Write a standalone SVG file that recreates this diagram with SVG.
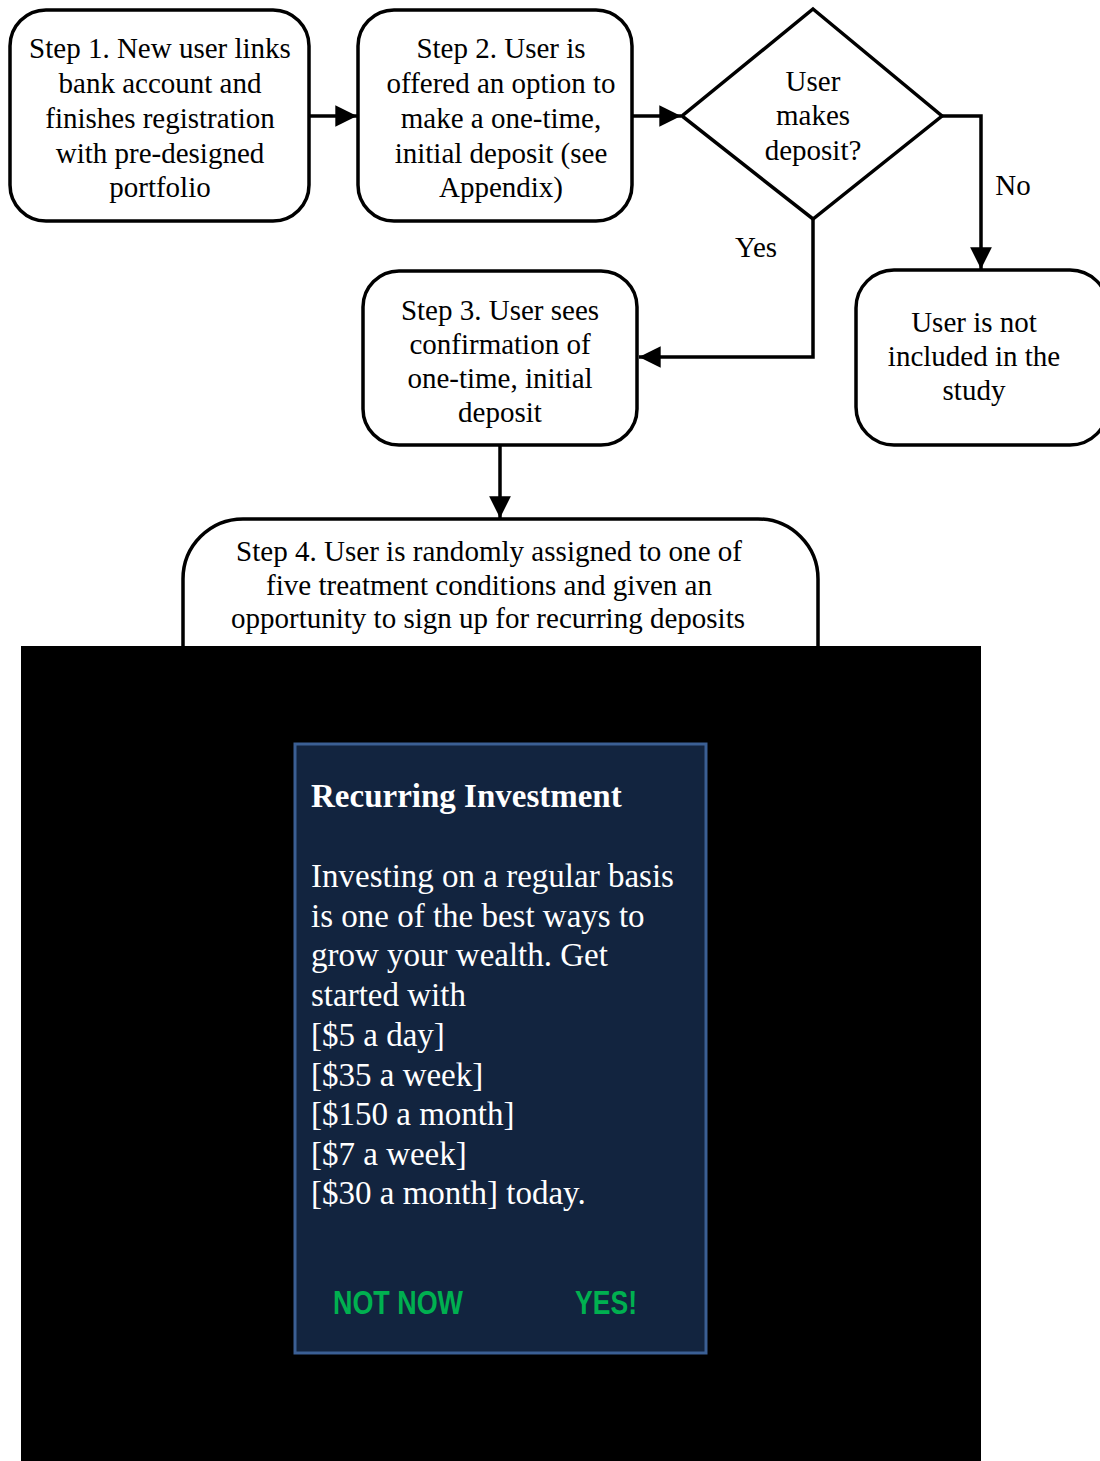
<svg xmlns="http://www.w3.org/2000/svg" width="1100" height="1461" viewBox="0 0 1100 1461">
<style>
.box{fill:#fff;stroke:#000;stroke-width:3.5}
.lbl{font-family:"Liberation Serif","Times New Roman",serif;font-size:29px;fill:#000;text-anchor:middle}
.ln{fill:none;stroke:#000;stroke-width:3.5}
.card{font-family:"Liberation Serif","Times New Roman",serif;font-size:33px;fill:#fff}
.btn{font-family:"Liberation Sans",Arial,sans-serif;font-size:33px;font-weight:bold;fill:#00b050}
</style>
<defs>
<marker id="ah" viewBox="0 0 10 10" refX="10" refY="5" markerWidth="6.2" markerHeight="6.2" markerUnits="strokeWidth" orient="auto">
<path d="M0,0 L10,5 L0,10 z" fill="#000"/>
</marker>
</defs>
<rect width="1100" height="1461" fill="#fff"/>
<g id="connectors">
<line class="ln" x1="309" y1="116" x2="357" y2="116" marker-end="url(#ah)"/>
<line class="ln" x1="632" y1="116" x2="681" y2="116" marker-end="url(#ah)"/>
<polyline class="ln" points="942,116 981,116 981,269" marker-end="url(#ah)"/>
<polyline class="ln" points="813,219 813,357 639,357" marker-end="url(#ah)"/>
<line class="ln" x1="500" y1="445" x2="500" y2="518" marker-end="url(#ah)"/>
<text class="lbl" x="1013" y="195">No</text>
<text class="lbl" x="756" y="257">Yes</text>
</g>
<g id="step1">
<rect class="box" x="10" y="10" width="299" height="211" rx="36"/>
<text class="lbl" x="160" y="58">Step 1. New user links</text>
<text class="lbl" x="160" y="93">bank account and</text>
<text class="lbl" x="160" y="128">finishes registration</text>
<text class="lbl" x="160" y="163">with pre-designed</text>
<text class="lbl" x="160" y="197">portfolio</text>
</g>
<g id="step2">
<rect class="box" x="358" y="10" width="274" height="211" rx="36"/>
<text class="lbl" x="501" y="58">Step 2. User is</text>
<text class="lbl" x="501" y="93">offered an option to</text>
<text class="lbl" x="501" y="128">make a one-time,</text>
<text class="lbl" x="501" y="163">initial deposit (see</text>
<text class="lbl" x="501" y="197">Appendix)</text>
</g>
<g id="decision">
<polygon class="box" points="813,9 942,116 813,219 682,116"/>
<text class="lbl" x="813" y="91">User</text>
<text class="lbl" x="813" y="125">makes</text>
<text class="lbl" x="813" y="160">deposit?</text>
</g>
<g id="step3">
<rect class="box" x="363" y="271" width="274" height="174" rx="36"/>
<text class="lbl" x="500" y="320">Step 3. User sees</text>
<text class="lbl" x="500" y="354">confirmation of</text>
<text class="lbl" x="500" y="388">one-time, initial</text>
<text class="lbl" x="500" y="422">deposit</text>
</g>
<g id="excluded">
<rect class="box" x="856" y="270" width="252" height="175" rx="38"/>
<text class="lbl" x="974" y="332">User is not</text>
<text class="lbl" x="974" y="366">included in the</text>
<text class="lbl" x="974" y="400">study</text>
</g>
<g id="step4">
<rect class="box" x="183" y="519" width="635" height="200" rx="60"/>
<text class="lbl" x="489" y="561" textLength="506" lengthAdjust="spacingAndGlyphs">Step 4. User is randomly assigned to one of</text>
<text class="lbl" x="489" y="595" textLength="446" lengthAdjust="spacingAndGlyphs">five treatment conditions and given an</text>
<text class="lbl" x="488" y="628" textLength="514" lengthAdjust="spacingAndGlyphs">opportunity to sign up for recurring deposits</text>
</g>
<g id="screen">
<rect x="21" y="646" width="960" height="815" fill="#000"/>
<rect x="295" y="744" width="411" height="609" fill="#12243f" stroke="#3b5f94" stroke-width="3"/>
<text class="card" x="311" y="807" font-weight="bold">Recurring Investment</text>
<text class="card" x="311" y="887">Investing on a regular basis</text>
<text class="card" x="311" y="927">is one of the best ways to</text>
<text class="card" x="311" y="966">grow your wealth. Get</text>
<text class="card" x="311" y="1006">started with</text>
<text class="card" x="311" y="1046">[$5 a day]</text>
<text class="card" x="311" y="1086">[$35 a week]</text>
<text class="card" x="311" y="1125">[$150 a month]</text>
<text class="card" x="311" y="1165">[$7 a week]</text>
<text class="card" x="311" y="1204">[$30 a month] today.</text>
<text class="btn" x="333" y="1314" textLength="130" lengthAdjust="spacingAndGlyphs">NOT NOW</text>
<text class="btn" x="575" y="1314" textLength="62" lengthAdjust="spacingAndGlyphs">YES!</text>
</g>
</svg>
